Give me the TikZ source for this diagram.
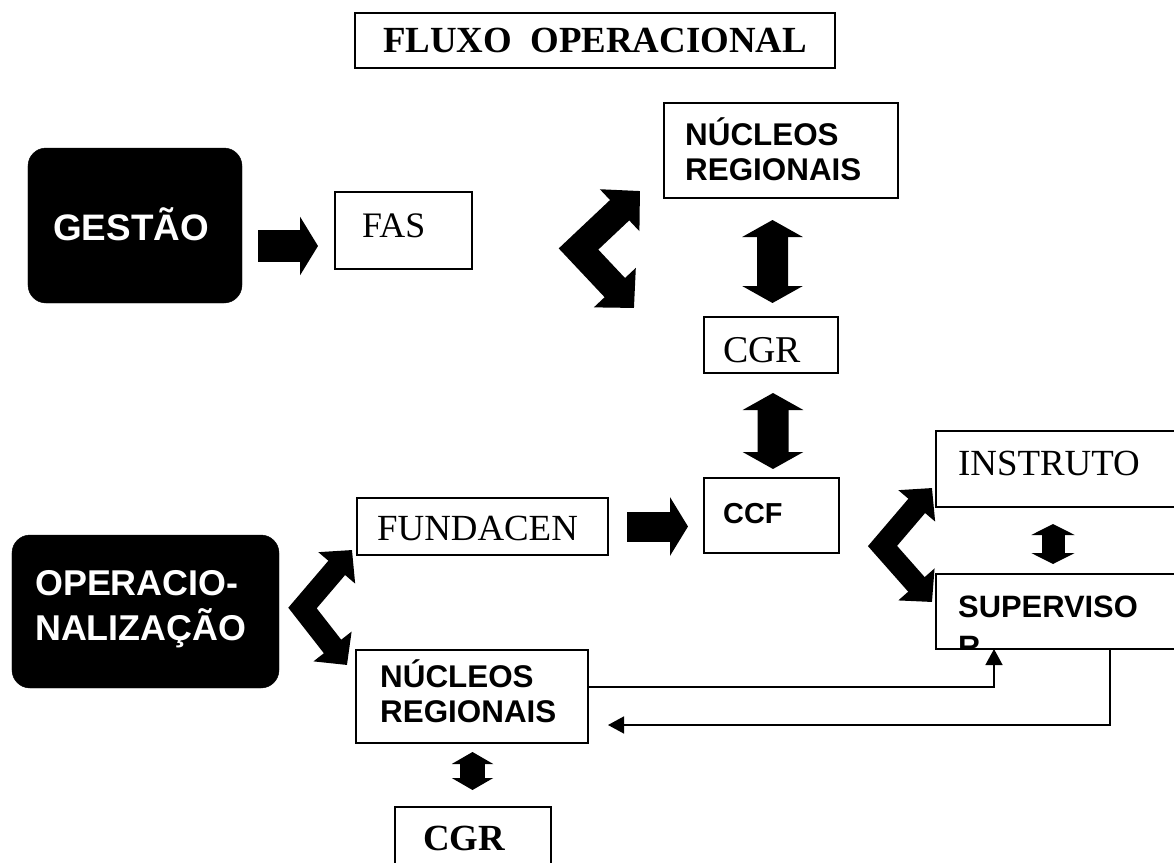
\documentclass[tikz,border=0pt]{standalone}
\usepackage{fontspec}
\setmainfont{Liberation Serif}
\setsansfont{Liberation Sans}
\usetikzlibrary{arrows.meta,calc}
\tikzset{
  box/.style={draw, line width=1.3bp, rectangle, inner sep=0pt, outer sep=0pt},
  blackbox/.style={fill=black, draw=black, rounded corners=18bp, inner sep=0pt, outer sep=0pt},
  serl/.style={inner sep=0pt, anchor=base west, font=\rmfamily\fontsize{#1}{#1}\selectfont},
  serb/.style={inner sep=0pt, anchor=base west, font=\rmfamily\bfseries\fontsize{#1}{#1}\selectfont},
  sanb/.style={inner sep=0pt, anchor=base west, font=\sffamily\bfseries\fontsize{#1}{#1}\selectfont},
  blockarrow/.style n args={3}{line width=#1, arrows={-Triangle[width=#2,length=#3]}},
  dblock/.style n args={3}{line width=#1, arrows={Triangle[width=#2,length=#3]-Triangle[width=#2,length=#3]}},
  chev/.style n args={3}{dblock={#1}{#2}{#3}, line join=miter, miter limit=20},
  conn/.style={line width=1.5bp, arrows={-Triangle[width=17bp,length=16bp]}},
}
\begin{document}
\begin{tikzpicture}[x=1bp,y=-1bp]
\clip (0,0) rectangle (1174,863);
\fill[white] (0,0) rectangle (1174,863);

% title
\node[box, minimum width=480bp, minimum height=55bp,
      font=\rmfamily\bfseries\fontsize{37}{37}\selectfont] (title) at (595,40.5) {FLUXO\ \ OPERACIONAL};

% boxes
\node[blackbox, minimum width=214bp, minimum height=155bp] (gestao) at (135,225.5) {};
\node[sanb=37, text=white] at (53,240) {GESTÃO};

\node[box, minimum width=137bp, minimum height=77bp] (fas) at (403.5,230.5) {};
\node[serl=36] at (362,237) {FAS};

\node[box, minimum width=234bp, minimum height=95bp] (nuc1) at (781,150.5) {};
\node[sanb=31.5] at (685,145) {NÚCLEOS};
\node[sanb=31.5] at (685,180) {REGIONAIS};

\node[box, minimum width=134bp, minimum height=56bp] (cgr1) at (771,345) {};
\node[serl=38] at (723,362) {CGR};

\node[box, minimum width=135bp, minimum height=75bp] (ccf) at (771.5,515.5) {};
\node[sanb=29] at (723,523) {CCF};

\node[box, minimum width=251bp, minimum height=57bp] (fund) at (482.5,526.5) {};
\node[serl=37] at (377,540) {FUNDACEN};

\node[box, minimum width=249bp, minimum height=76bp] (instr) at (1060.5,469) {};
\node[serl=37] at (958,475) {INSTRUTO};

\node[box, minimum width=249bp, minimum height=75bp] (sup) at (1060.5,611.5) {};
\node[sanb=31] at (958,617) {SUPERVISO};
\begin{scope}
  \clip (sup.south west) rectangle (sup.north east);
  \node[sanb=31] at (958,657) {R};
\end{scope}

\node[blackbox, minimum width=267bp, minimum height=153bp] (oper) at (145.5,611.5) {};
\node[sanb=36, text=white] at (35,595) {OPERACIO-};
\node[sanb=36, text=white] at (35,640) {NALIZAÇÃO};

\node[box, minimum width=232bp, minimum height=93bp] (nuc2) at (472,696.5) {};
\node[sanb=31.5] at (380,687) {NÚCLEOS};
\node[sanb=31.5] at (380,722) {REGIONAIS};

\node[box, minimum width=156bp, minimum height=73bp] (cgr2) at (473,843.5) {};
\node[serb=37] at (423,850) {CGR};

% block arrows
\draw[blockarrow={32bp}{58bp}{18bp}] ($(gestao.east)+(16,20.5)$) -- ($(fas.west)+(-17,15.5)$);
\draw[blockarrow={30bp}{58bp}{18bp}] ($(fund.east)+(19,0)$) -- ($(ccf.west)+(-16,11)$);

% vertical double arrows
\draw[dblock={31bp}{60bp}{17bp}] ($(nuc1.south)+(-8.5,22)$) -- ($(cgr1.north)+(1.5,-14)$);
\draw[dblock={31bp}{60bp}{17bp}] ($(cgr1.south)+(2,20)$) -- ($(ccf.north)+(1.5,-9)$);
\draw[dblock={23bp}{43bp}{11bp}] ($(instr.south)+(-7.5,17)$) -- ($(sup.north)+(-7.5,-10)$);
\draw[dblock={25bp}{41bp}{12bp}] ($(nuc2.south)+(0.5,9)$) -- ($(cgr2.north)+(-0.5,-17)$);

% chevron double arrows
\coordinate (v1) at (578.5,249);
\draw[chev={28bp}{56bp}{28bp}] ($(nuc1.south west)+(-24,-7)$) -- (v1) -- ($(cgr1.north west)+(-70,-9)$);
\coordinate (v2) at (882.5,546);
\draw[chev={22bp}{47bp}{23.5bp}] ($(instr.west)+(-4,19)$) -- (v2) -- ($(sup.west)+(-4,-9.5)$);
\coordinate (v3) at (302.5,608);
\draw[chev={22bp}{47bp}{23.5bp}] ($(fund.south west)+(-5,-5)$) -- (v3) -- ($(nuc2.north west)+(-9,15)$);

% thin connectors
\draw[conn] ($(nuc2.east)+(0,-9.5)$) -| ($(sup.south)+(-66.5,0)$);
\draw[conn] ($(sup.south)+(49.5,0)$) |- ($(nuc2.east)+(20,28.5)$);
\end{tikzpicture}
\end{document}
